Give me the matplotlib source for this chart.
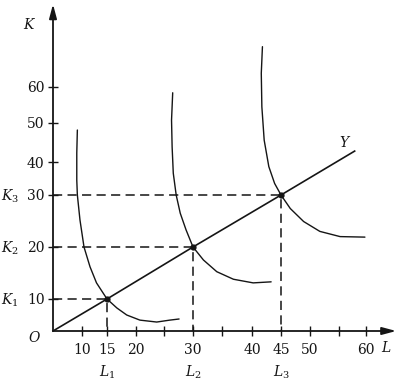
import numpy as np
import matplotlib
matplotlib.use('Agg')
import matplotlib.pyplot as plt

plt.rcParams['font.family'] = 'DejaVu Serif'
plt.rcParams['mathtext.fontset'] = 'dejavuserif'

# points where the expansion path meets each isoquant (L, K)
L_pts = [15, 30, 45]
K_pts = [10, 20, 30]
L_names = ['$L_1$', '$L_2$', '$L_3$']
K_names = ['$K_1$', '$K_2$', '$K_3$']
path_end_L, path_end_K = 57.9, 42.8

# isoquants
q1_L = [8.4, 8.2, 8.2, 8.4, 9.3, 10.4, 11.6, 12.9, 15.0, 16.7, 18.4, 20.7, 23.7, 26.0, 27.6]
q1_K = [48.2, 42.3, 34.5, 30.0, 25.2, 20.0, 16.2, 13.1, 10.0, 7.2, 5.0, 3.4, 2.8, 3.4, 3.75]
q2_L = [26.5, 26.3, 26.4, 26.6, 27.1, 27.8, 28.8, 30.0, 31.8, 34.1, 36.9, 40.2, 43.3]
q2_K = [58.4, 50.8, 43.9, 36.6, 30.0, 26.5, 23.3, 20.0, 17.5, 15.25, 13.8, 13.1, 13.3]
q3_L = [41.8, 41.6, 41.7, 42.1, 42.9, 43.9, 45.0, 46.6, 48.9, 51.7, 55.2, 59.8]
q3_K = [71.2, 63.8, 54.5, 45.6, 38.6, 33.5, 30.0, 27.4, 24.9, 23.0, 22.0, 21.9]

x_ticks = [10, 15, 20, 25, 30, 35, 40, 45, 50, 55, 60]
x_labels = ['10', '15', '20', '', '30', '', '40', '45', '50', '', '60']
y_ticks = [10, 20, 30, 40, 50, 60]
y_labels = ['10', '20', '30', '40', '50', '60']

# the hand-drawn axes are not evenly spaced: calibrate each one
L_cal = [-20, 0, 10, 15, 20, 25, 30, 35, 40, 45, 50, 55, 60, 70]
L_pix = [-5, 53, 82, 107, 136, 164, 193, 222, 252, 281, 310, 339, 366, 420]
K_cal = [-20, 0, 10, 20, 30, 40, 50, 60, 70, 80, 100]
K_pix = [395, 331, 299, 247, 195, 162, 123, 87, 51, 15, -57]
W, H = 399, 390


def fx(v):
    return np.interp(v, L_cal, L_pix)


def ix(p):
    return np.interp(p, L_pix, L_cal)


def fy(v):
    return H - np.interp(v, K_cal, K_pix)


def iy(p):
    return np.interp(H - np.asarray(p), K_pix[::-1], K_cal[::-1])


fig = plt.figure(figsize=(W / 100, H / 100), dpi=100)
ax = fig.add_axes([0, 0, 1, 1])
ax.set_xscale('function', functions=(fx, ix))
ax.set_yscale('function', functions=(fy, iy))
ax.set_xlim(float(ix(0)), float(ix(W)))
ax.set_ylim(float(iy(0)), float(iy(H)))

ink = '#151515'
for s in ax.spines.values():
    s.set_visible(False)
ax.spines['left'].set_position(('data', 0))
ax.spines['bottom'].set_position(('data', 0))

x_end, y_end = 65.6, 83.0
arrow = dict(arrowstyle='-|>,head_length=0.6,head_width=0.16', lw=1.3,
             color=ink, mutation_scale=14, shrinkA=0, shrinkB=0)
ax.annotate('', xy=(x_end, 0), xytext=(0, 0), arrowprops=arrow)
ax.annotate('', xy=(0, y_end), xytext=(0, 0), arrowprops=arrow)

ax.set_xticks(x_ticks, x_labels)
ax.set_yticks(y_ticks, y_labels)
ax.minorticks_off()
ax.tick_params(axis='both', direction='inout', length=7, width=1.0,
               color=ink, labelcolor=ink, labelsize=10)
ax.tick_params(axis='x', pad=5)
ax.tick_params(axis='y', pad=2.5)

# isoquants
for qL, qK in [(q1_L, q1_K), (q2_L, q2_K), (q3_L, q3_K)]:
    ax.plot(qL, qK, color=ink, lw=1.0, solid_capstyle='round',
            solid_joinstyle='round')

# expansion path
ax.plot([0] + L_pts + [path_end_L], [0] + K_pts + [path_end_K],
        color=ink, lw=1.2)

# dashed guides
for L, K in zip(L_pts, K_pts):
    ax.plot([0, L, L], [K, K, 0], color=ink, lw=1.1, ls='--', dashes=(6, 3.5))
ax.plot(L_pts, K_pts, 'o', color=ink, ms=3.5)

lab = dict(textcoords='offset pixels', ha='center', va='center',
           fontsize=10, color=ink)
for L, name in zip(L_pts, L_names):
    ax.annotate(name, xy=(L, 0), xytext=(0, -41), **lab)
for K, name in zip(K_pts, K_names):
    ax.annotate(name, xy=(0, K), xytext=(-43, -1), **lab)
ax.annotate('$K$', xy=(0, y_end), xytext=(-23, -20), **lab)
ax.annotate('$L$', xy=(x_end, 0), xytext=(-10, -17), **lab)
ax.annotate('$O$', xy=(0, 0), xytext=(-18, -6), **lab)
ax.annotate('$Y$', xy=(path_end_L, path_end_K), xytext=(-10, 9), **lab)

fig.savefig('out.png', dpi=100)
